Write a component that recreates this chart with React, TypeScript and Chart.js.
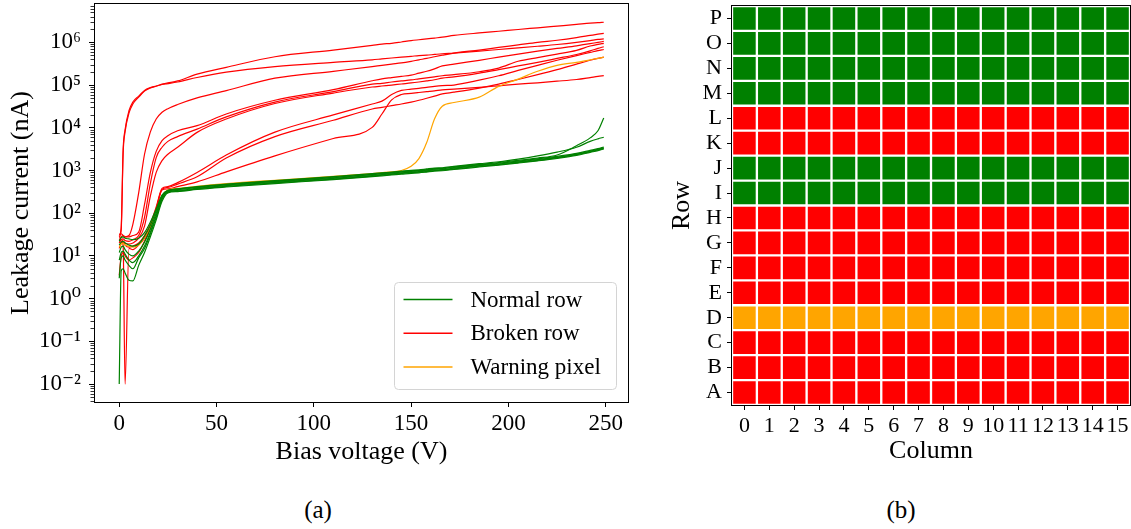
import React, { useEffect, useRef } from 'react';
import { Chart, registerables } from 'chart.js';

Chart.register(...registerables);

const FONT = "'Liberation Serif', 'Times New Roman', 'DejaVu Serif', serif";

// ---------- (a) leakage current vs bias voltage ----------
const VOLTS = [0, 1, 2, 3, 5, 7, 10, 13, 16, 19, 22, 25, 30, 40, 55, 80, 110, 130, 135, 140, 145, 150, 154, 158, 162, 166, 172, 185, 195, 205, 215, 225, 235, 242, 246, 249];

const NORMAL_1 = [0.01, 4.5, 5, 4, 2.7, 2.6, 6, 12, 28, 70, 190, 300, 320, 360, 410, 495, 610, 715, 750, 785, 820, 860, 880, 920, 965, 985, 1060, 1210, 1330, 1490, 1680, 1920, 2260, 2660, 2910, 3190];
const NORMAL_2 = [8, 12, 13, 11, 8, 7, 10, 17, 36, 88, 220, 310, 330, 372, 425, 515, 630, 740, 775, 810, 850, 890, 910, 950, 1000, 1020, 1095, 1255, 1375, 1545, 1730, 1990, 2340, 2740, 3010, 3300];
const NORMAL_3 = [3, 9, 10, 8, 6, 5, 9, 15, 33, 80, 210, 318, 340, 382, 440, 528, 650, 762, 800, 836, 875, 915, 940, 980, 1030, 1050, 1130, 1295, 1420, 1595, 1790, 2050, 2410, 2830, 3110, 3400];
const NORMAL_4 = [12, 16, 17, 14, 11, 10, 13, 21, 42, 100, 235, 331, 355, 398, 457, 550, 676, 794, 832, 871, 912, 955, 977, 1023, 1072, 1096, 1175, 1349, 1479, 1660, 1862, 2138, 2512, 2951, 3236, 3548];
const NORMAL_5 = [22, 27, 28, 26, 25, 24, 26, 35, 62, 125, 265, 340, 365, 410, 470, 565, 695, 815, 855, 895, 935, 980, 1000, 1050, 1100, 1125, 1210, 1390, 1530, 1720, 1950, 2300, 3800, 5800, 8500, 17000];
const NORMAL_6 = [18, 21, 22, 20, 18, 17, 19, 29, 52, 115, 255, 345, 372, 418, 480, 580, 715, 840, 880, 920, 965, 1010, 1035, 1085, 1135, 1160, 1245, 1440, 1600, 1850, 2200, 2700, 3500, 4800, 5500, 6000];

const BROKEN_1 = [30, 45, 3000, 9000, 25000, 40000, 55000, 75000, 87000, 95000, 105000, 112000, 125000, 180000, 260000, 460000, 660000, 850000, 910000, 950000, 1020000, 1100000, 1150000, 1200000, 1260000, 1320000, 1450000, 1660000, 1820000, 2000000, 2190000, 2400000, 2630000, 2820000, 2880000, 2950000];
const BROKEN_2 = [28, 40, 2500, 8000, 22000, 36000, 52000, 72000, 85000, 94000, 103000, 108000, 118000, 150000, 200000, 270000, 340000, 390000, 410000, 430000, 450000, 470000, 490000, 500000, 520000, 540000, 560000, 620000, 680000, 740000, 810000, 890000, 1000000, 1100000, 1170000, 1200000];
const BROKEN_3 = [26, 28, 30, 28, 30, 55, 300, 2400, 8000, 16000, 23000, 28000, 35000, 50000, 74000, 145000, 210000, 270000, 290000, 310000, 330000, 360000, 390000, 420000, 460000, 500000, 560000, 660000, 760000, 870000, 1000000, 1120000, 1290000, 1450000, 1550000, 1620000];
const BROKEN_4 = [32, 33, 30, 28, 28, 30, 36, 160, 900, 2800, 5000, 6500, 8500, 11200, 21000, 44000, 78000, 126000, 140000, 150000, 160000, 170000, 190000, 210000, 240000, 280000, 310000, 380000, 450000, 530000, 620000, 720000, 830000, 930000, 1000000, 1050000];
const BROKEN_5 = [20, 24, 25, 23, 22, 24, 30, 80, 500, 2000, 3500, 4800, 6200, 9300, 18000, 40000, 70000, 105000, 110000, 118000, 125000, 132000, 140000, 148000, 156000, 165000, 175000, 205000, 250000, 360000, 440000, 530000, 650000, 820000, 900000, 950000];
const BROKEN_6 = [15, 20, 22, 20, 19, 20, 26, 50, 250, 900, 1700, 2400, 3500, 7800, 16000, 37000, 65000, 90000, 95000, 100000, 106000, 112000, 118000, 125000, 133000, 145000, 155000, 190000, 230000, 280000, 340000, 420000, 520000, 630000, 720000, 790000];
const BROKEN_7 = [22, 24, 22, 18, 16, 17, 20, 30, 55, 140, 380, 420, 520, 900, 2300, 7900, 20000, 36000, 42000, 60000, 75000, 80000, 84000, 88000, 93000, 97000, 100000, 130000, 165000, 220000, 290000, 380000, 490000, 580000, 640000, 680000];
const BROKEN_8 = [3.5, 10, 12, 10, 8, 9, 12, 22, 45, 120, 360, 400, 480, 710, 1950, 6200, 15000, 27500, 30000, 33000, 36000, 40000, 44000, 49000, 55000, 62000, 68000, 85000, 105000, 135000, 175000, 230000, 310000, 380000, 420000, 450000];
const BROKEN_9 = [25, 22, 18, 0.01, 15, 14, 18, 26, 50, 130, 350, 370, 420, 540, 930, 2200, 5600, 10200, 21000, 45000, 60000, 64000, 67000, 70000, 73000, 77000, 80000, 88000, 96000, 105000, 113000, 123000, 135000, 150000, 160000, 166000];

const WARNING_1 = [16, 19, 20, 18, 17, 16, 18, 27, 50, 110, 250, 350, 378, 425, 490, 590, 725, 850, 890, 935, 1000, 1250, 1900, 4500, 16000, 32000, 39000, 52000, 93000, 138000, 210000, 290000, 340000, 390000, 420000, 450000];

const NORMAL_SERIES = [NORMAL_1, NORMAL_2, NORMAL_3, NORMAL_4, NORMAL_5, NORMAL_6];
const BROKEN_SERIES = [BROKEN_1, BROKEN_2, BROKEN_3, BROKEN_4, BROKEN_5, BROKEN_6, BROKEN_7, BROKEN_8, BROKEN_9];
const WARNING_SERIES = [WARNING_1];

const X_TICKS = [0, 50, 100, 150, 200, 250];
const Y_TICK_VALUES = [1e-2, 1e-1, 1, 10, 100, 1e3, 1e4, 1e5, 1e6];
const Y_TICK_LABELS = ['10⁻²', '10⁻¹', '10⁰', '10¹', '10²', '10³', '10⁴', '10⁵', '10⁶'];

const LEGEND_LABELS = ['Normal row', 'Broken row', 'Warning pixel'];
const GREEN = '#008000';
const RED = '#ff0000';
const ORANGE = '#ffa500';
const LEGEND_COLORS = [GREEN, RED, ORANGE];

// ---------- (b) pixel-row map ----------
const ROW_LABELS = ['A', 'B', 'C', 'D', 'E', 'F', 'G', 'H', 'I', 'J', 'K', 'L', 'M', 'N', 'O', 'P'];
const ROW_STATUS = ['broken', 'broken', 'broken', 'warning', 'broken', 'broken', 'broken', 'broken', 'normal', 'normal', 'broken', 'broken', 'normal', 'normal', 'normal', 'normal'];
const COLUMNS = [0, 1, 2, 3, 4, 5, 6, 7, 8, 9, 10, 11, 12, 13, 14, 15];
const STATUS_COLORS: Record<string, string> = { normal: GREEN, broken: RED, warning: ORANGE };

const zeroPad = (s: any) => {
  s.paddingTop = 0;
  s.paddingBottom = 0;
  s.paddingLeft = 0;
  s.paddingRight = 0;
};

const framePlugin = {
  id: 'frame',
  afterDraw(chart: any) {
    const { left, top, right, bottom } = chart.chartArea;
    const ctx = chart.ctx;
    ctx.save();
    ctx.strokeStyle = '#000';
    ctx.lineWidth = 1;
    ctx.strokeRect(Math.round(left) - 0.5, Math.round(top) - 0.5, Math.round(right) - Math.round(left) + 1, Math.round(bottom) - Math.round(top) + 1);
    ctx.restore();
  },
};

const minorTickPlugin = {
  id: 'minorTicks',
  afterDraw(chart: any) {
    const y = chart.scales.y;
    const ctx = chart.ctx;
    const left = Math.round(chart.chartArea.left) - 1;
    ctx.save();
    ctx.strokeStyle = '#000';
    ctx.lineWidth = 0.8;
    for (let e = -3; e <= 6; e++) {
      for (let m = 2; m <= 9; m++) {
        const v = m * Math.pow(10, e);
        if (v < y.min || v > y.max) continue;
        const py = Math.round(y.getPixelForValue(v)) + 0.5;
        ctx.beginPath();
        ctx.moveTo(left - 3.5, py);
        ctx.lineTo(left, py);
        ctx.stroke();
      }
    }
    ctx.restore();
  },
};

const legendPlugin = {
  id: 'boxLegend',
  afterDraw(chart: any) {
    const ctx = chart.ctx;
    const { right, bottom } = chart.chartArea;
    const w = 222;
    const h = 107;
    const x0 = Math.round(right - 12 - w) + 0.5;
    const y0 = Math.round(bottom - 13 - h) + 0.5;
    ctx.save();
    ctx.fillStyle = 'rgba(255,255,255,0.85)';
    ctx.strokeStyle = '#d4d4d4';
    ctx.lineWidth = 1;
    ctx.beginPath();
    ctx.roundRect(x0, y0, w, h, 4);
    ctx.fill();
    ctx.stroke();
    LEGEND_LABELS.forEach((label, i) => {
      const y = y0 + 17 + i * 33.7;
      ctx.strokeStyle = LEGEND_COLORS[i];
      ctx.lineWidth = 1.5;
      ctx.beginPath();
      ctx.moveTo(x0 + 9, y);
      ctx.lineTo(x0 + 58, y);
      ctx.stroke();
      ctx.fillStyle = '#000';
      ctx.font = `23px ${FONT}`;
      ctx.textBaseline = 'middle';
      ctx.textAlign = 'left';
      ctx.fillText(label, x0 + 76, y + 1);
    });
    ctx.restore();
  },
};

function toPoints(series: number[]) {
  return series.map((v, i) => ({ x: VOLTS[i], y: v }));
}

function LeakageChart() {
  const ref = useRef<HTMLCanvasElement>(null);
  useEffect(() => {
    const line = (series: number[], label: string, color: string) => ({
      label,
      data: toPoints(series),
      borderColor: color,
      backgroundColor: color,
      borderWidth: 1.2,
      pointRadius: 0,
      fill: false,
      cubicInterpolationMode: 'monotone' as const,
    });
    const datasets = [
      ...NORMAL_SERIES.map((s) => line(s, LEGEND_LABELS[0], GREEN)),
      ...WARNING_SERIES.map((s) => line(s, LEGEND_LABELS[2], ORANGE)),
      ...BROKEN_SERIES.map((s) => line(s, LEGEND_LABELS[1], RED)),
    ];
    const chart = new Chart(ref.current!, {
      type: 'line',
      data: { datasets },
      options: {
        animation: false,
        responsive: false,
        maintainAspectRatio: false,
        layout: { padding: { top: 4, right: 12, left: 0, bottom: 0 } },
        plugins: { legend: { display: false }, tooltip: { enabled: false } },
        scales: {
          x: {
            type: 'linear',
            min: -12.45,
            max: 261.45,
            afterBuildTicks: (s: any) => {
              s.ticks = X_TICKS.map((v) => ({ value: v }));
            },
            afterFit: (s: any) => {
              s.height = 78;
              zeroPad(s);
            },
            border: { display: false },
            grid: { drawOnChartArea: false, drawTicks: true, tickLength: 5, color: '#000', tickColor: '#000' },
            ticks: { font: { family: FONT, size: 23 }, color: '#000', padding: 3, maxRotation: 0, autoSkip: false },
            title: { display: true, text: 'Bias voltage (V)', font: { family: FONT, size: 26 }, color: '#000', padding: { top: 0, bottom: 12 } },
          },
          y: {
            type: 'logarithmic',
            min: 0.0038,
            max: 7.9e6,
            afterBuildTicks: (s: any) => {
              s.ticks = Y_TICK_VALUES.map((v) => ({ value: v }));
            },
            afterFit: (s: any) => {
              s.width = 95;
              zeroPad(s);
            },
            border: { display: false },
            grid: { drawOnChartArea: false, drawTicks: true, tickLength: 6, color: '#000', tickColor: '#000' },
            ticks: {
              font: { family: FONT, size: 23 },
              color: '#000',
              padding: 8,
              autoSkip: false,
              callback: (_v: any, i: number) => Y_TICK_LABELS[i],
            },
            title: { display: true, text: 'Leakage current (nA)', font: { family: FONT, size: 26 }, color: '#000', padding: { top: 6, bottom: 0 } },
          },
        },
      } as any,
      plugins: [framePlugin, minorTickPlugin, legendPlugin],
    });
    return () => chart.destroy();
  }, []);
  return <canvas ref={ref} width={640} height={480} style={{ position: 'absolute', left: 0, top: 0, width: 640, height: 480 }} />;
}

function RowMapChart() {
  const ref = useRef<HTMLCanvasElement>(null);
  useEffect(() => {
    const datasets = COLUMNS.map((c) => ({
      label: `Column ${c}`,
      data: ROW_LABELS.map(() => [c - 0.5, c + 0.5]),
      backgroundColor: ROW_STATUS.map((s) => STATUS_COLORS[s]),
      borderColor: '#ffffff',
      borderWidth: 1.5,
      borderSkipped: false,
      barPercentage: 1,
      categoryPercentage: 1,
      grouped: false,
    }));
    const chart = new Chart(ref.current!, {
      type: 'bar',
      data: { labels: ROW_LABELS, datasets },
      options: {
        animation: false,
        responsive: false,
        maintainAspectRatio: false,
        indexAxis: 'y',
        layout: { padding: { top: 6, right: 1, left: 0, bottom: 0 } },
        plugins: { legend: { display: false }, tooltip: { enabled: false } },
        scales: {
          x: {
            type: 'linear',
            min: -0.5,
            max: 15.5,
            afterBuildTicks: (s: any) => {
              s.ticks = COLUMNS.map((v) => ({ value: v }));
            },
            afterFit: (s: any) => {
              s.height = 75;
              zeroPad(s);
            },
            border: { display: false },
            grid: { drawOnChartArea: false, drawTicks: true, tickLength: 5, color: '#000', tickColor: '#000' },
            ticks: { font: { family: FONT, size: 22 }, color: '#000', padding: 3, maxRotation: 0, autoSkip: false },
            title: { display: true, text: 'Column', font: { family: FONT, size: 26 }, color: '#000', padding: { top: 0, bottom: 13 } },
          },
          y: {
            type: 'category',
            reverse: true,
            offset: true,
            afterFit: (s: any) => {
              s.width = 92;
              zeroPad(s);
            },
            border: { display: false },
            grid: { offset: false, drawOnChartArea: false, drawTicks: true, tickLength: 5, color: '#000', tickColor: '#000' },
            ticks: { font: { family: FONT, size: 22 }, color: '#000', padding: 5, autoSkip: false },
            title: { display: true, text: 'Row', font: { family: FONT, size: 26 }, color: '#000', padding: { top: 27, bottom: 0 } },
          },
        },
      } as any,
      plugins: [framePlugin],
    });
    return () => chart.destroy();
  }, []);
  return <canvas ref={ref} width={491} height={480} style={{ position: 'absolute', left: 640, top: 0, width: 491, height: 480 }} />;
}

export default function App() {
  const caption: React.CSSProperties = {
    position: 'absolute',
    top: 495,
    height: 30,
    lineHeight: '30px',
    textAlign: 'center',
    fontFamily: FONT,
    fontSize: 25,
    color: '#000',
  };
  return (
    <div style={{ position: 'absolute', left: 0, top: 0, width: 1131, height: 529, background: '#fff', overflow: 'hidden' }}>
      <LeakageChart />
      <RowMapChart />
      <div style={{ ...caption, left: 0, width: 636 }}>(a)</div>
      <div style={{ ...caption, left: 801, width: 200 }}>(b)</div>
    </div>
  );
}
